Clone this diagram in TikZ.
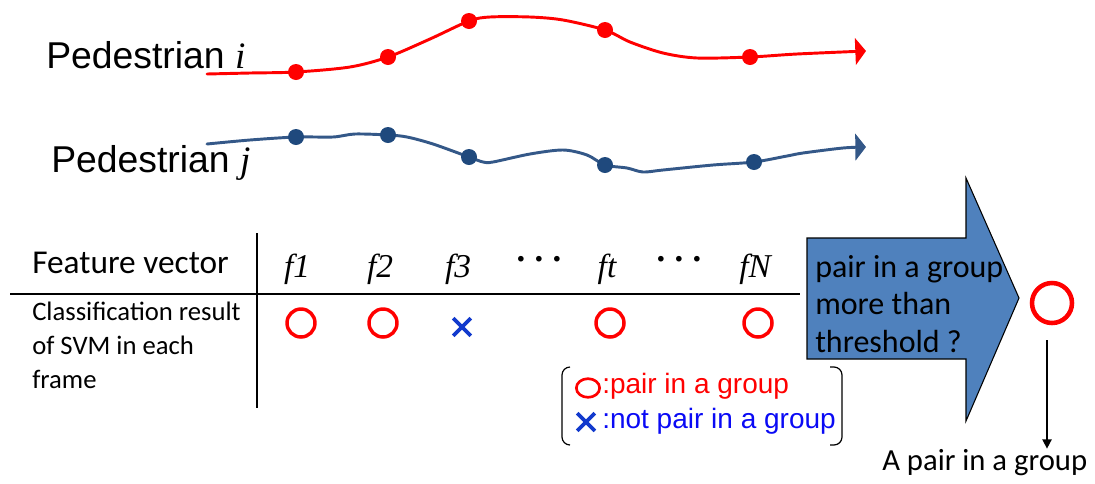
\documentclass[tikz,border=0pt]{standalone}
\usepackage{fontspec}
\setmainfont{Liberation Sans}
\newfontfamily\calib{Carlito}
\newfontfamily\tms{Liberation Serif}
\usetikzlibrary{arrows.meta,shapes.geometric,shapes.misc}
\definecolor{tred}{RGB}{255,0,0}
\definecolor{tblue}{RGB}{31,73,125}
\definecolor{tline}{RGB}{52,88,136}
\definecolor{xblue}{RGB}{18,58,205}
\definecolor{lblue}{RGB}{10,10,245}
\definecolor{afill}{RGB}{79,129,189}

\begin{document}
\begin{tikzpicture}[x=0.75pt,y=-0.75pt,
  ped/.style={anchor=base west,inner sep=0pt,font=\fontsize{28}{34}\selectfont},
  fv/.style={anchor=base,inner sep=0pt,font=\tms\itshape\fontsize{25}{28}\selectfont},
  dts/.style={anchor=base,inner sep=0pt,font=\tms\bfseries\fontsize{26}{28}\selectfont},
  cal/.style={anchor=base west,inner sep=0pt,align=left},
  okmark/.style={circle,draw=tred,line width=2.6pt,minimum size=21pt,inner sep=0pt},
  ngmark/.style={cross out,draw=xblue,line width=2.8pt,minimum size=10.5pt,inner sep=0pt},
  trj/.style={line width=2.2pt,line cap=round,-{Triangle[length=8pt,width=20pt]}},
  ln/.style={line width=1.1pt},
  arr/.style={line width=1.1pt,-{Triangle[length=7pt,width=7pt]}},
  brk/.style={line width=0.9pt,rounded corners=6pt},
  leg/.style={anchor=base west,inner sep=0pt,font=\fontsize{21}{25}\selectfont},
  ]
  \useasboundingbox (0,0) rectangle (1095,483);

  % two walking paths
  \node[ped] (pi) at (46,68)  {Pedestrian {\tms\itshape i}};
  \node[ped] (pj) at (51,172) {Pedestrian {\tms\itshape j}};
  \draw[trj,tred] plot[smooth] coordinates {(207,74) (250,73) (296,72) (350,67) (388,57)
    (430,39) (469,21) (490,17) (530,17) (563,20) (605,30) (630,42) (663,53) (697,58)
    (750,57) (797,54) (866,51)};
  \draw[trj,tline] plot[smooth] coordinates {(207,144) (250,140) (296,137) (333,137)
    (355,134) (388,135) (407,137) (433,144) (469,157) (483,162) (493,162) (530,154)
    (563,150) (587,155) (605,165) (627,168) (643,172) (663,170) (713,165) (754,162)
    (787,156) (803,153) (843,148) (866,147)};
  \foreach \p in {(296,72),(388,57),(469,21),(605,30),(750,57)}
    \fill[tred] \p circle[radius=6pt];
  \foreach \p in {(296,137),(388,135),(469,157),(605,165),(754,162)}
    \fill[tblue] \p circle[radius=6pt];

  % table
  \node[cal,font=\calib\fontsize{25}{30}\selectfont] (fvec) at (32,273) {Feature vector};
  \node[cal,font=\calib\fontsize{20}{25.5}\selectfont] (cls) at (32,388)
    {Classification result\\of SVM in each\\frame};
  \draw[ln] (10,294) -- (800,294);
  \draw[ln] (257,233) -- (257,408);
  \node[fv]  (f1) at (297,277) {f1};
  \node[fv]  (f2) at (380,277) {f2};
  \node[fv]  (f3) at (458,277) {f3};
  \node[dts] (d1) at (539,261) {.\hspace{7pt}.\hspace{7pt}.};
  \node[fv]  (ft) at (607,277) {ft};
  \node[dts] (d2) at (679,261) {.\hspace{7pt}.\hspace{7pt}.};
  \node[fv]  (fN) at (755,277) {fN};
  \node[okmark] (m1) at (301,323) {};
  \node[okmark] (m2) at (383,323) {};
  \node[ngmark] (m3) at (462,327) {};
  \node[okmark] (mt) at (610,323) {};
  \node[okmark] (mN) at (758,323) {};

  % legend
  \draw[brk] (570,367) -- (562,367) -- (562,445) -- (570,445);
  \draw[brk] (830,367) -- (842,367) -- (842,445) -- (830,445);
  \node[ellipse,draw=tred,line width=2pt,minimum width=17.5pt,minimum height=14pt,
        inner sep=0pt] (lo) at (588,388) {};
  \node[leg,text=tred] (lot) at (602,393) {:pair in a group};
  \node[ngmark] (lx) at (586,422) {};
  \node[leg,text=lblue] (lxt) at (602,428) {:not pair in a group};

  % decision arrow
  \draw[fill=afill,line width=0.8pt] (807,238) -- (966,238) -- (966,178) -- (1019,298)
    -- (966,421) -- (966,359) -- (807,359) -- cycle;
  \node[cal,font=\calib\fontsize{24}{28}\selectfont] (q) at (815,352)
    {pair in a group\\more than\\threshold ?};
  \node[okmark,line width=3.4pt,minimum size=30pt] (res) at (1052,303) {};
  \node[cal,font=\calib\fontsize{23}{28}\selectfont] (ans) at (882,470) {A pair in a group};
  \coordinate (dtop) at (1047,340);
  \draw[arr] (dtop) -- (dtop |- ans.north);
\end{tikzpicture}
\end{document}
